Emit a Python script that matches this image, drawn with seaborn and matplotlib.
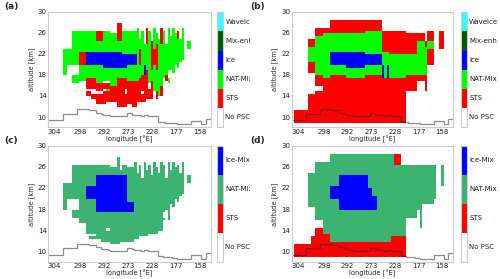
import numpy as np
import pandas as pd
import seaborn as sns
import matplotlib.pyplot as plt
from matplotlib.colors import ListedColormap
from matplotlib.transforms import Bbox, TransformedBbox

# curtain grid: 68 profiles along the track, 0.5 km levels from 30 km down to 8 km
N_PROF = 68
TOP_KM = 30.0
DZ = 0.5
N_LEV = 44

LON_LABELS = ["304", "298", "292", "273", "228", "177", "158"]
LON_PROF = [2, 13, 23, 33, 43, 53, 63]
ALT_TICKS = [10, 14, 18, 22, 26, 30]

CLASSES_OLD = ["No PSC", "STS", "NAT-Mix", "Ice", "Mix-enh", "WaveIce"]
COLORS_OLD = ["#ffffff", "#ff0000", "#00ff00", "#0000ff", "#005a00", "#33ffff"]
CLASSES_NEW = ["No PSC", "STS", "NAT-Mix", "Ice-Mix"]
COLORS_NEW = ["#ffffff", "#ff0000", "#3cb371", "#0000ff"]
CODES = {".": 0, "S": 1, "N": 2, "I": 3, "M": 4, "W": 5}

# tropopause height per profile [km]
TROPOPAUSE = [9.5, 9.5, 9.5, 9.5, 9.5, 9.5, 10.7, 10.7, 10.7, 10.7, 10.7, 10.7,
              11.6, 11.6, 11.6, 11.6, 11.6, 11.4, 11.4, 11.4, 10.9, 10.9,
              10.6, 10.5, 10.5, 10.4, 10.3, 10.3, 10.2, 10.3, 10.3, 10.2, 10.3,
              10.8, 10.8, 10.5, 10.4, 10.4, 10.4, 10.3, 10.4, 10.4, 10.3, 10.3,
              10.2, 10.2, 9.2, 9.2, 9.1, 9.0, 9.0, 9.0, 8.9, 8.9,
              8.7, 8.7, 8.7, 8.7, 8.7, 8.7, 9.4, 9.4, 9.4, 9.4, 8.8, 8.8, 9.8, 9.8]

# (first profile, last profile, "class:level_from-level_to ...") levels counted from 30 km
PSC_A = [
    (6, 7, "N:14-24"),
    (8, 9, "N:14-20"),
    (10, 12, "N:7-20 N:24-27"),
    (13, 15, "N:7-15 S:15-20 N:20-26"),
    (16, 17, "N:7-15 I:15-20 N:20-25 S:25-29 S:30-32"),
    (18, 19, "N:7-15 I:15-20 N:20-25 S:25-29 S:31-33"),
    (20, 22, "S:7-11 N:11-15 I:15-20 N:20-27 S:27-30 S:31-35"),
    (23, 23, "N:7-15 I:15-21 N:21-26 S:27-29 S:30-35"),
    (24, 25, "N:7-15 I:15-21 N:21-26 S:27-29 N:29-30 S:30-34"),
    (26, 28, "N:8-15 I:15-21 N:21-28 S:28-34"),
    (29, 30, "S:4-11 N:11-15 I:15-21 N:21-25 S:25-36"),
    (31, 31, "N:7-16 I:16-21 N:21-25 S:25-36"),
    (32, 32, "N:7-16 I:16-21 N:21-25 S:25-29 S:31-36"),
    (33, 34, "N:7-16 I:16-20 N:20-26 S:26-35"),
    (35, 36, "N:7-16 I:16-20 N:20-26 S:26-36"),
    (37, 37, "N:6-26 S:26-34"),
    (38, 38, "N:10-14 S:14-20 N:20-25 S:25-34"),
    (39, 39, "N:7-24 S:24-30 S:31-34"),
    (40, 40, "N:12-20 I:20-24 S:24-34"),
    (41, 41, "S:6-12 N:12-22 S:22-33"),
    (42, 42, "N:7-27 S:29-33"),
    (43, 43, "S:11-22 N:22-26 S:26-33"),
    (44, 44, "N:6-14 S:14-20 N:20-30"),
    (45, 45, "N:8-12 S:12-22 N:22-30 S:30-33"),
    (46, 46, "N:10-32"),
    (47, 47, "S:6-12 N:12-28 S:28-32"),
    (48, 48, "N:7-25"),
    (49, 49, "N:12-24 S:24-26"),
    (50, 50, "N:6-22 N:25-27"),
    (51, 51, "N:9-22"),
    (52, 52, "N:6-23"),
    (53, 53, "N:8-20"),
    (54, 54, "S:7-10 N:10-21"),
    (55, 55, "N:10-19"),
    (56, 56, "N:6-18"),
    (58, 59, "N:11-14"),
]

PSC_B = [
    (1, 6, "S:37-42"),
    (7, 9, "S:10-13 N:13-19 S:19-23 S:31-42"),
    (10, 12, "S:6-9 N:9-24 S:24-28 S:30-42"),
    (13, 15, "S:6-8 N:8-25 S:25-42"),
    (16, 22, "S:3-8 N:8-15 I:15-20 N:20-24 S:24-42"),
    (23, 30, "S:3-8 N:8-15 I:15-21 N:21-25 S:25-42"),
    (31, 37, "S:3-7 N:7-16 I:16-20 N:20-24 S:24-42"),
    (38, 38, "S:7-15 N:15-20 I:20-25 S:25-42"),
    (39, 39, "S:7-15 N:15-25 S:25-42"),
    (40, 40, "S:7-15 N:15-20 I:20-25 S:25-42"),
    (41, 47, "S:7-16 N:16-25 S:25-42"),
    (48, 52, "S:8-16 N:16-24 S:24-30"),
    (53, 55, "S:8-11 N:11-24 S:24-26"),
    (56, 56, "S:11-13 N:13-24 S:24-30"),
    (57, 59, "S:7-11 N:11-14 S:14-20"),
    (62, 63, "S:7-14"),
]

PSC_C = [
    (6, 7, "N:14-24"),
    (8, 9, "N:14-20"),
    (10, 12, "N:7-20 N:24-27"),
    (13, 15, "N:7-29"),
    (16, 16, "N:7-15 I:15-20 N:20-33"),
    (17, 19, "N:7-15 I:15-20 N:20-33 N:34-35"),
    (20, 21, "N:7-11 I:11-25 N:25-35"),
    (22, 23, "N:7-11 I:11-25 N:25-36"),
    (24, 25, "N:7-11 I:11-25 N:25-31 N:32-36"),
    (26, 28, "N:8-11 I:11-25 N:25-37"),
    (29, 29, "N:4-11 I:11-25 N:25-37"),
    (30, 30, "N:9-11 I:11-25 N:25-36"),
    (31, 32, "N:7-11 I:11-25 N:25-36"),
    (33, 35, "N:8-21 I:21-25 N:25-36"),
    (36, 36, "N:6-35"),
    (37, 37, "N:10-35"),
    (38, 38, "N:7-34"),
    (39, 39, "N:12-34"),
    (40, 40, "N:6-34"),
    (41, 41, "N:9-34"),
    (42, 42, "N:7-33"),
    (43, 43, "N:11-33"),
    (44, 44, "N:6-33"),
    (45, 45, "N:8-33"),
    (46, 46, "N:10-32"),
    (47, 47, "N:6-32"),
    (48, 48, "N:7-25 N:27-28"),
    (49, 49, "N:12-24"),
    (50, 50, "N:6-28"),
    (51, 51, "N:9-22"),
    (52, 52, "N:6-23"),
    (53, 53, "N:8-20"),
    (54, 54, "N:7-21"),
    (55, 55, "N:10-19"),
    (56, 56, "N:6-18"),
    (58, 59, "N:11-14"),
]

PSC_D = [
    (1, 6, "S:37-42"),
    (7, 7, "N:10-23 S:37-42"),
    (8, 9, "N:10-23 S:34-42"),
    (10, 12, "N:6-28 S:31-42"),
    (13, 15, "N:6-33 S:33-42"),
    (16, 19, "N:3-15 I:15-20 N:20-36 S:36-42"),
    (20, 31, "N:3-11 I:11-24 N:24-36 S:36-42"),
    (32, 33, "N:3-16 I:16-24 N:24-36 S:36-42"),
    (34, 35, "N:3-19 I:19-24 N:24-36 S:36-42"),
    (36, 41, "N:3-36 S:36-42"),
    (42, 42, "N:3-34 S:34-42"),
    (43, 45, "S:3-7 N:7-34 S:34-42"),
    (46, 47, "N:7-34 S:34-42"),
    (48, 52, "N:7-27"),
    (53, 53, "N:7-24"),
    (54, 54, "N:7-31"),
    (55, 59, "N:7-22"),
    (60, 60, "N:7-20"),
    (63, 63, "N:7-15"),
]


def build_curtain(psc):
    grid = np.zeros((N_LEV, N_PROF), dtype=int)
    for p0, p1, spec in psc:
        for seg in spec.split():
            cls, rng = seg.split(":")
            l0, l1 = map(int, rng.split("-"))
            grid[l0:l1, p0:p1 + 1] = CODES[cls]
    levels = TOP_KM - DZ * np.arange(N_LEV)
    return pd.DataFrame(grid, index=levels)


def lev(alt):
    return (TOP_KM - np.asarray(alt, dtype=float)) / DZ


def draw_panel(fig, rect, crect, psc, classes, colors, clip_box):
    ax = fig.add_axes(rect)
    cax = fig.add_axes(crect)
    n = len(classes)
    sns.heatmap(build_curtain(psc), ax=ax, cbar_ax=cax, cmap=ListedColormap(colors),
                vmin=-0.5, vmax=n - 0.5, xticklabels=False, yticklabels=False)
    ax.stairs(lev(TROPOPAUSE), np.arange(N_PROF + 1), baseline=None,
              color="k", alpha=0.5, lw=0.9)
    ax.set_xlim(0, N_PROF)
    ax.set_ylim(lev(8.2), 0)
    ax.set_xticks(np.array(LON_PROF) + 0.5)
    ax.set_xticklabels(LON_LABELS, rotation=0)
    ax.set_yticks(lev(ALT_TICKS))
    ax.set_yticklabels([str(a) for a in ALT_TICKS], rotation=0, va="center")
    ax.tick_params(labelsize=5, length=0, pad=1.2, labelcolor="#222222")
    ax.set_xlabel("longitude [°E]", fontsize=4.8, labelpad=0.3)
    ax.set_ylabel("altitude [km]", fontsize=4.8, labelpad=2)
    for s in ax.spines.values():
        s.set_visible(True)
        s.set_color("#cccccc")
        s.set_linewidth(0.8)

    cb = ax.collections[0].colorbar
    cb.set_ticks([])
    cb.outline.set_linewidth(0.8)
    cb.outline.set_edgecolor("#cccccc")
    for i, name in enumerate(classes):
        t = fig.text(1.4, (i + 0.5) / n, name, transform=cax.transAxes,
                     fontsize=5, va="center", ha="left", color="#222222")
        t.set_clip_box(clip_box)
        t.set_clip_on(True)


sns.set_theme(style="white")
plt.rcParams["font.family"] = ["DejaVu Sans"]

fig = plt.figure(figsize=(5.0, 2.79), dpi=100)
left_half = TransformedBbox(Bbox([[0, 0], [0.5, 1]]), fig.transFigure)
right_half = TransformedBbox(Bbox([[0.5, 0], [1, 1]]), fig.transFigure)

draw_panel(fig, [0.0966, 0.5448, 0.3244, 0.4111], [0.434, 0.5448, 0.012, 0.4111],
           PSC_A, CLASSES_OLD, COLORS_OLD, left_half)
draw_panel(fig, [0.5834, 0.5448, 0.3226, 0.4111], [0.9214, 0.5448, 0.012, 0.4111],
           PSC_B, CLASSES_OLD, COLORS_OLD, right_half)
draw_panel(fig, [0.0966, 0.062, 0.3244, 0.4147], [0.434, 0.062, 0.012, 0.4147],
           PSC_C, CLASSES_NEW, COLORS_NEW, left_half)
draw_panel(fig, [0.5834, 0.062, 0.3226, 0.4147], [0.9214, 0.062, 0.012, 0.4147],
           PSC_D, CLASSES_NEW, COLORS_NEW, right_half)

for x, y, lab in [(0.008, 0.975, "(a)"), (0.5, 0.975, "(b)"),
                  (0.008, 0.495, "(c)"), (0.5, 0.495, "(d)")]:
    fig.text(x, y, lab, fontsize=6.5, fontweight="bold", va="center", ha="left")

fig.savefig("out.png", dpi=100)
